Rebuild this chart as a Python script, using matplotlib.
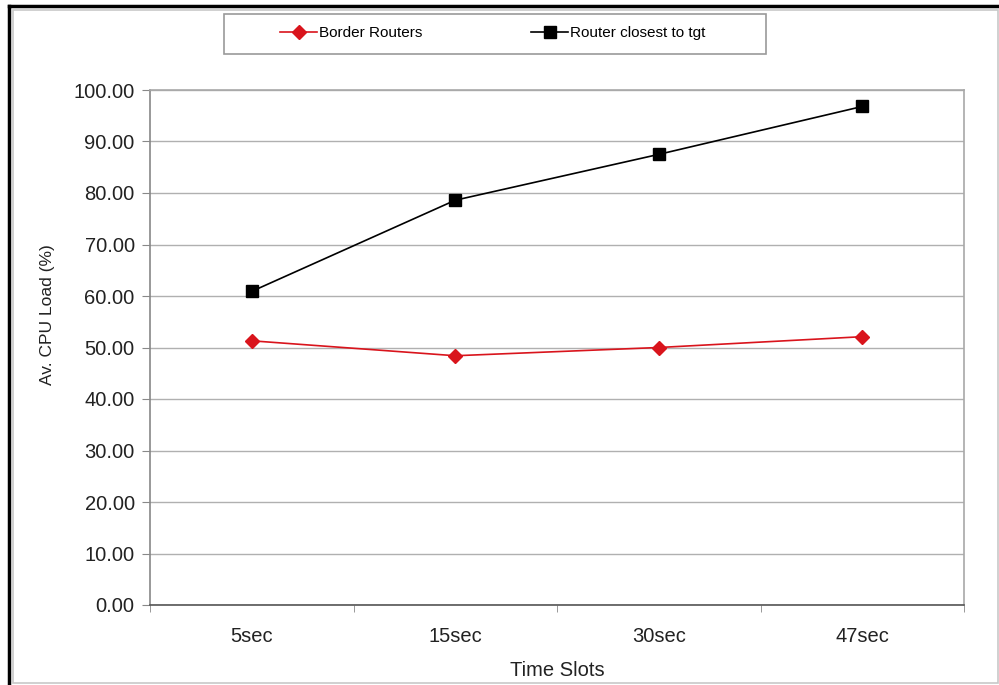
import matplotlib.pyplot as plt
from matplotlib.patches import Rectangle
from matplotlib.lines import Line2D

plt.rcParams['font.family'] = ['Liberation Sans', 'DejaVu Sans']

slots = ['5sec', '15sec', '30sec', '47sec']
border = [51.3, 48.4, 50.0, 52.1]
closest = [60.9, 78.6, 87.5, 96.8]
yticks = [0, 10, 20, 30, 40, 50, 60, 70, 80, 90, 100]

W, H = 999, 685
fig = plt.figure(figsize=(W / 100, H / 100), dpi=100)

# outer frame (black) and chart area border (gray)
fig.add_artist(Line2D([9 / W, 9 / W], [0, 1 - 6 / H], color='black', lw=2.5))
fig.add_artist(Line2D([9 / W, 1], [1 - 6 / H, 1 - 6 / H], color='black', lw=2.5))
fig.add_artist(Rectangle((13 / W, 2 / H), 1 - 14 / W, 1 - 12 / H, transform=fig.transFigure,
                         fill=False, ec='#c8c8c8', lw=1.2))

ax = fig.add_axes([150 / W, 1 - 605 / H, (964 - 150) / W, (605 - 90) / H])
x = list(range(len(slots)))
ax.plot(x, border, color='#d9141c', marker='D', ms=7, lw=1.2, label='Border Routers')
ax.plot(x, closest, color='black', marker='s', ms=8, lw=1.2, label='Router closest to tgt')

ax.set_xlim(-0.5, len(slots) - 0.5)
ax.set_ylim(0, 100)
ax.set_yticks(yticks)
ax.set_yticklabels(['%.2f' % v for v in yticks], fontsize=14.5, color='#222222')
ax.set_xticks(x)
ax.set_xticklabels(slots, fontsize=14.5, color='#222222')
ax.tick_params(axis='x', length=0, pad=16)
ax.set_xticks([i - 0.5 for i in range(len(slots) + 1)], minor=True)
ax.tick_params(axis='x', which='minor', length=5, color='#888888', direction='out')
ax.tick_params(axis='y', length=6, color='#888888', pad=5)
ax.grid(axis='y', color='#b0b0b0', lw=1)
ax.set_axisbelow(True)
for s in ['top', 'right']:
    ax.spines[s].set_color('#a8a8a8')
ax.spines['left'].set_color('#888888')
ax.spines['bottom'].set_color('#555555')
for s in ax.spines.values():
    s.set_linewidth(1.2)

ax.set_ylabel('Av. CPU Load (%)', fontsize=12.5, color='#222222', va='center')
ax.yaxis.set_label_coords((48 - 150) / 814, (605 - 315) / 515)
ax.set_xlabel('Time Slots', fontsize=14.5, color='#222222', va='center')
ax.xaxis.set_label_coords(0.5, -(670 - 605) / 515)

# legend box
fig.add_artist(Rectangle((224 / W, 1 - 54 / H), (766 - 224) / W, 40 / H, transform=fig.transFigure,
                         fill=False, ec='#9a9a9a', lw=1.2))
fig.legend(loc='center', bbox_to_anchor=(493 / W, 1 - 33 / H), ncol=2, fontsize=11,
           frameon=False, handlelength=2.4, columnspacing=7.1, handletextpad=0.15)

fig.savefig('out.png', dpi=100)
